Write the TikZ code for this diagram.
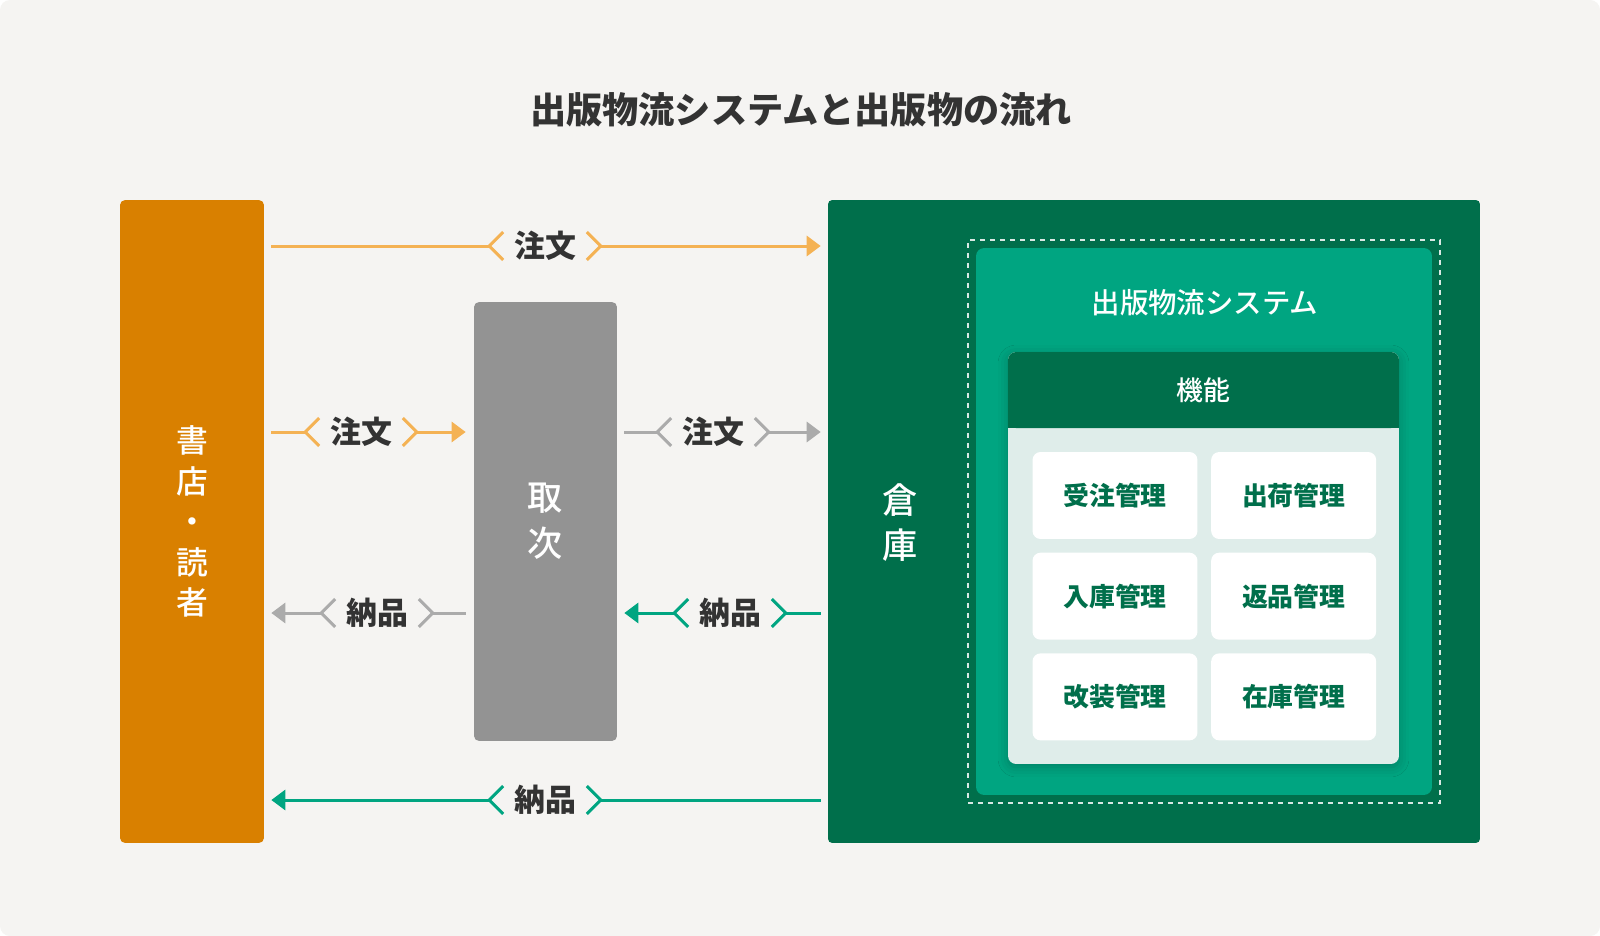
\documentclass[tikz,border=0pt]{standalone}
\usepackage{fontspec}
\setmainfont{Noto Sans CJK JP}
\newfontfamily\jpmedium{Noto Sans CJK JP Medium}
\usepackage{xcolor}
\usetikzlibrary{positioning, arrows.meta, shadows.blur}

\definecolor{colBg}{HTML}{F5F4F2}
\definecolor{colOrange}{HTML}{D98000}
\definecolor{colOrangeL}{HTML}{F4B254}
\definecolor{colGray}{HTML}{939393}
\definecolor{colGrayL}{HTML}{ABABAB}
\definecolor{colDark}{HTML}{006F4B}
\definecolor{colMid}{HTML}{00A581}
\definecolor{colLight}{HTML}{DFEDEA}
\definecolor{colText}{HTML}{333333}

\tikzset{
	block/.style={rounded corners=0.1cm, inner sep=0pt, text=white, align=center},
	tag/.style={minimum width=2.22cm, inner sep=0pt, text=colText, font=\bfseries\fontsize{17.6}{21}\selectfont},
	flow/.style={line width=0.06cm},
	tip/.style={-{Triangle[length=0.28cm, width=0.4cm]}},
	cell/.style={fill=white, rounded corners=0.16cm, minimum width=3.3cm, minimum height=1.74cm, inner sep=0pt,
		text=colDark, font=\bfseries\fontsize{14.7}{18}\selectfont}
}

\newcommand{\chevrons}[2]{%
	\draw[flow, #2, line join=miter] ([xshift=0.28cm, yshift=0.28cm]#1.west) -- (#1.west) -- ([xshift=0.28cm, yshift=-0.28cm]#1.west);
	\draw[flow, #2, line join=miter] ([xshift=-0.28cm, yshift=0.28cm]#1.east) -- (#1.east) -- ([xshift=-0.28cm, yshift=-0.28cm]#1.east);
}

\begin{document}
\begin{tikzpicture}[x=0.02cm, y=-0.02cm]
	\useasboundingbox (0,0) rectangle (1600,936);
	\fill[white] (0,0) rectangle (1600,936);
	\fill[colBg, rounded corners=0.2cm] (0,0) rectangle (1600,936);

	\node (title) at (801,110) {\bfseries\fontsize{20.6}{24}\selectfont\color{colText}出版物流システムと出版物の流れ};

	% left and middle
	\node (reader) [block, fill=colOrange, minimum width=2.88cm, minimum height=12.86cm,
		font=\jpmedium\fontsize{18.1}{23}\selectfont] at (192,521.5) {書\\店\\・\\読\\者};
	\node (toritsugi) [block, fill=colGray, minimum width=2.86cm, minimum height=8.78cm,
		font=\jpmedium\fontsize{20}{26}\selectfont] at (545.5,521.5) {取\\次};

	% warehouse
	\node (souko) [fill=colDark, rounded corners=0.08cm, minimum width=13.04cm, minimum height=12.86cm] at (1154,521.5) {};
	\node (soukolabel) [align=center, text=white, font=\jpmedium\fontsize{20}{26}\selectfont] at (900,522.5) {倉\\庫};
	\node (dashbox) [draw=white, draw opacity=0.85, line width=0.03cm, dash pattern=on 0.1cm off 0.1cm,
		minimum width=9.44cm, minimum height=11.26cm] at (1204,521.5) {};
	\node (system) [fill=colMid, rounded corners=0.16cm, minimum width=9.12cm, minimum height=10.94cm] at (1204,521.5) {};
	\node (systemlabel) [text=white, font=\jpmedium\fontsize{16.2}{19}\selectfont] at (1205,303) {出版物流システム};

	\node (panel) [fill=colLight, rounded corners=0.16cm, minimum width=7.82cm, minimum height=8.24cm,
		blur shadow={shadow xshift=0pt, shadow yshift=-0.06cm, shadow blur radius=0.2cm, shadow opacity=22}] at (1203.5,558) {};
	\fill[colDark] ([yshift=-1.52cm]panel.north west) rectangle ([yshift=-0.76cm]panel.north east);
	\node (kinou) [fill=colDark, rounded corners=0.16cm, minimum width=7.82cm, minimum height=1.52cm, anchor=north,
		text=white, font=\jpmedium\fontsize{15.3}{19}\selectfont] at (panel.north) {機能};

	\node (juchu) [cell] at (1115,495.5) {受注管理};
	\node (shukka) [cell, right=0.26cm of juchu] {出荷管理};
	\node (nyuko) [cell, below=0.26cm of juchu] {入庫管理};
	\node (henpin) [cell, right=0.26cm of nyuko] {返品管理};
	\node (kaisou) [cell, below=0.26cm of nyuko] {改装管理};
	\node (zaiko) [cell, right=0.26cm of kaisou] {在庫管理};

	% orders
	\node (order1) [tag] at (545,246) {注文};
	\node (order2) [tag] at (361,432) {注文};
	\node (order3) [tag] at (713,432) {注文};
	\chevrons{order1}{colOrangeL}
	\chevrons{order2}{colOrangeL}
	\chevrons{order3}{colGrayL}

	\begin{scope}[flow]
		\draw[colOrangeL] ([xshift=0.14cm]reader.east |- order1.west) -- (order1.west);
		\draw[colOrangeL, tip] (order1.east) -- ([xshift=-0.14cm]souko.west |- order1.east);
		\draw[colOrangeL] ([xshift=0.14cm]reader.east |- order2.west) -- (order2.west);
		\draw[colOrangeL, tip] (order2.east) -- ([xshift=-0.16cm]toritsugi.west |- order2.east);
		\draw[colGrayL] ([xshift=0.14cm]toritsugi.east |- order3.west) -- (order3.west);
		\draw[colGrayL, tip] (order3.east) -- ([xshift=-0.14cm]souko.west |- order3.east);
	\end{scope}

	% deliveries
	\node (delivery1) [tag] at (377,613) {納品};
	\node (delivery2) [tag] at (730,613) {納品};
	\node (delivery3) [tag] at (545,800) {納品};
	\chevrons{delivery1}{colGrayL}
	\chevrons{delivery2}{colMid}
	\chevrons{delivery3}{colMid}

	\begin{scope}[flow]
		\draw[colGrayL, tip] (delivery1.west) -- ([xshift=0.14cm]reader.east |- delivery1.west);
		\draw[colGrayL] (delivery1.east) -- ([xshift=-0.16cm]toritsugi.west |- delivery1.east);
		\draw[colMid, tip] (delivery2.west) -- ([xshift=0.14cm]toritsugi.east |- delivery2.west);
		\draw[colMid] (delivery2.east) -- ([xshift=-0.14cm]souko.west |- delivery2.east);
		\draw[colMid, tip] (delivery3.west) -- ([xshift=0.14cm]reader.east |- delivery3.west);
		\draw[colMid] (delivery3.east) -- ([xshift=-0.14cm]souko.west |- delivery3.east);
	\end{scope}
\end{tikzpicture}
\end{document}
